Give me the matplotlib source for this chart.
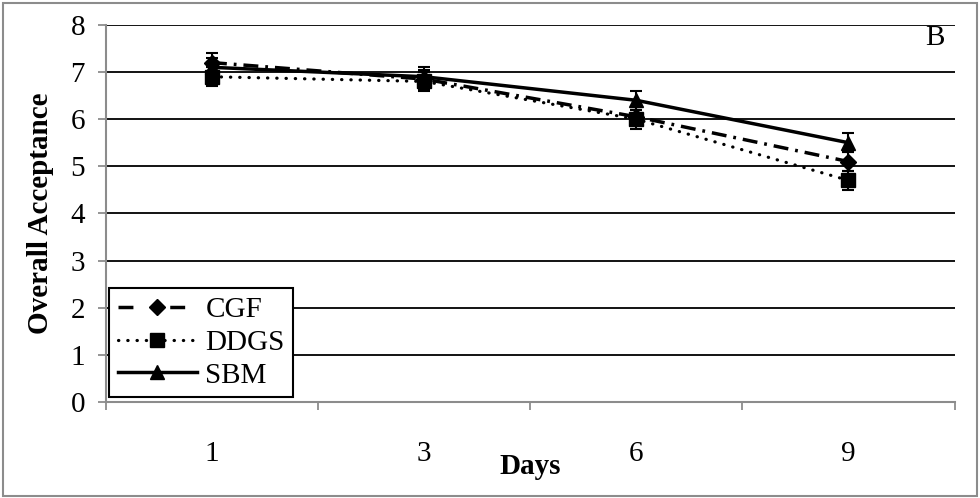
import numpy as np
import matplotlib
matplotlib.use("Agg")
import matplotlib.pyplot as plt
from matplotlib.patches import Rectangle
from matplotlib.lines import Line2D

plt.rcParams['font.family'] = ['Liberation Serif', 'DejaVu Serif']

days = ['1', '3', '6', '9']
cgf = [7.2, 6.85, 6.05, 5.1]
ddgs = [6.9, 6.8, 6.0, 4.7]
sbm = [7.1, 6.9, 6.4, 5.5]
cgf_err = [0.2, 0.2, 0.2, 0.2]
ddgs_err = [0.2, 0.2, 0.2, 0.2]
sbm_err = [0.2, 0.2, 0.2, 0.2]

x = np.arange(len(days))
fs = 21

fig = plt.figure(figsize=(9.8, 4.98), dpi=100)
ax = fig.add_axes([0.108, 0.193, 0.866, 0.757])

# horizontal grid lines
for yv in range(1, 9):
    ax.axhline(yv, color='black', lw=1.3, zorder=1)

cgf_ls = (0, (4.3, 2, 0.8, 2))
ddgs_ls = (0, (0.1, 2.8))

ax.errorbar(x, cgf, yerr=cgf_err, color='black', lw=2.5, ls=cgf_ls,
            marker='D', ms=8, capsize=4.5, elinewidth=1.5, capthick=1.5, zorder=3)
ax.errorbar(x, ddgs, yerr=ddgs_err, color='black', lw=2.3, ls=ddgs_ls,
            dash_capstyle='round', marker='s', ms=9.5, capsize=4.5, elinewidth=1.5,
            capthick=1.5, zorder=3)
ax.errorbar(x, sbm, yerr=sbm_err, color='black', lw=2.5, ls='-',
            marker='^', ms=10, capsize=4.5, elinewidth=1.5, capthick=1.5, zorder=3)

ax.set_xlim(-0.5, 3.5)
ax.set_ylim(0, 8)
ax.set_yticks(range(0, 9))
ax.set_xticks(x)
ax.set_xticklabels(days)
ax.set_xticks(np.arange(-0.5, 4.0, 1.0), minor=True)

for side in ['top', 'right']:
    ax.spines[side].set_visible(False)
for side in ['left', 'bottom']:
    ax.spines[side].set_color('#8c8c8c')
    ax.spines[side].set_linewidth(1.5)

ax.tick_params(axis='y', direction='out', length=6, width=1.3, color='#8c8c8c',
               labelsize=fs, pad=9)
ax.tick_params(axis='x', which='major', length=0, labelsize=fs, pad=28)
ax.tick_params(axis='x', which='minor', direction='out', length=6, width=1.3, color='#8c8c8c')

ax.set_xlabel('Days', fontsize=fs, fontweight='bold', va='center')
ax.xaxis.set_label_coords(0.5, -0.172)
ax.set_ylabel('Overall Acceptance', fontsize=fs, fontweight='bold', va='center')
ax.yaxis.set_label_coords(-0.077, 0.5)

ax.text(0.988, 0.965, 'B', transform=ax.transAxes, ha='right', va='center', fontsize=fs)

handles = [
    Line2D([], [], color='black', lw=2.5, ls=(0, (4.3, 10.6)), marker='D', ms=8),
    Line2D([], [], color='black', lw=2.3, ls=ddgs_ls, dash_capstyle='round', marker='s', ms=9.5),
    Line2D([], [], color='black', lw=2.5, ls='-', marker='^', ms=10),
]
leg = ax.legend(handles, ['CGF', 'DDGS', 'SBM'], loc='lower left',
                bbox_to_anchor=(0.004, 0.012), fontsize=fs,
                frameon=True, fancybox=False, edgecolor='black', framealpha=1,
                handlelength=2.7, labelspacing=0.22, borderpad=0.3, handletextpad=0.3,
                borderaxespad=0)
leg.get_frame().set_linewidth(1.5)

fig.patches.append(Rectangle((0.003, 0.004), 0.994, 0.99, transform=fig.transFigure,
                             fill=False, edgecolor='#8c8c8c', lw=1.5))

fig.savefig('out.png', dpi=100)
